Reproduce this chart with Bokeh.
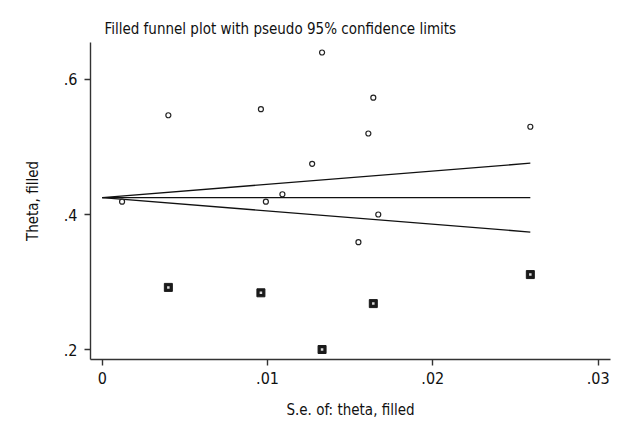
from bokeh.plotting import figure
from bokeh.models import Range1d, FixedTicker, CustomJSTickFormatter
from bokeh.embed import file_html
from bokeh.resources import INLINE

# Observed studies (hollow markers)
obs_se = [0.0012, 0.0040, 0.0096, 0.0133, 0.0127, 0.0099, 0.0109, 0.0164, 0.0161, 0.0167, 0.0155, 0.0259]
obs_theta = [0.419, 0.547, 0.556, 0.640, 0.475, 0.419, 0.430, 0.573, 0.520, 0.400, 0.359, 0.530]

# Filled (imputed) studies
fill_se = [0.0040, 0.0096, 0.0133, 0.0164, 0.0259]
fill_theta = [0.292, 0.284, 0.200, 0.268, 0.311]

# Pseudo 95% confidence limits and pooled estimate
line_se = [0.0, 0.0259]
upper_lim = [0.425, 0.476]
lower_lim = [0.425, 0.374]
pooled = [0.425, 0.425]

x_ticks = [0, 0.01, 0.02, 0.03]
y_ticks = [0.2, 0.4, 0.6]

FONT = "'DejaVu Sans Condensed', Lato, sans-serif"

p = figure(width=624, height=424, output_backend="svg", toolbar_location=None,
           x_range=Range1d(-0.00071, 0.03075), y_range=Range1d(0.18519, 0.65481),
           min_border_left=90, min_border_right=14, min_border_top=42, min_border_bottom=65,
           title="Filled funnel plot with pseudo 95% confidence limits")
p.outline_line_color = None
p.grid.grid_line_color = None
p.background_fill_color = "white"
p.border_fill_color = "white"

p.title.text_font = FONT
p.title.text_font_size = "15px"
p.title.text_font_style = "normal"
p.title.align = "left"
p.title.offset = 14
p.title.text_color = "#111111"

p.xaxis.ticker = FixedTicker(ticks=x_ticks)
p.yaxis.ticker = FixedTicker(ticks=y_ticks)
p.xaxis.formatter = CustomJSTickFormatter(code="""
    if (Math.abs(tick) < 1e-9) return "0";
    return tick.toFixed(2).replace(/^0/, "");
""")
p.yaxis.formatter = CustomJSTickFormatter(code="""
    return tick.toFixed(1).replace(/^0/, "");
""")
for ax in (p.xaxis, p.yaxis):
    ax.axis_line_color = "#333333"
    ax.axis_line_width = 1.4
    ax.major_tick_line_color = "#333333"
    ax.major_tick_line_width = 1.4
    ax.major_tick_out = 6
    ax.major_tick_in = 0
    ax.minor_tick_line_color = None
    ax.major_label_text_font = FONT
    ax.major_label_text_font_size = "16px"
    ax.major_label_text_color = "#111111"
    ax.axis_label_text_font = FONT
    ax.axis_label_text_font_size = "15px"
    ax.axis_label_text_font_style = "normal"
    ax.axis_label_text_color = "#111111"

p.xaxis.axis_label = "S.e. of: theta, filled"
p.yaxis.axis_label = "Theta, filled"
p.xaxis.major_label_standoff = 6
p.xaxis.axis_label_standoff = 14
p.yaxis.major_label_standoff = 7
p.yaxis.axis_label_standoff = 19
p.yaxis.major_label_orientation = "horizontal"

# Funnel lines
p.line(line_se, pooled, line_color="#111111", line_width=1.3)
p.line(line_se, upper_lim, line_color="#111111", line_width=1.3)
p.line(line_se, lower_lim, line_color="#111111", line_width=1.3)

# Observed studies
p.scatter(obs_se, obs_theta, marker="circle", size=5, fill_color="white",
          line_color="#222222", line_width=1.2)

# Filled studies: dark square with light centre dot
p.scatter(fill_se, fill_theta, marker="square", size=8, fill_color="#1a1a1a",
          line_color="#1a1a1a", line_width=1)
p.scatter(fill_se, fill_theta, marker="square", size=2.5, fill_color="#dddddd",
          line_color=None)

open("out.html", "w").write(file_html(p, INLINE))
